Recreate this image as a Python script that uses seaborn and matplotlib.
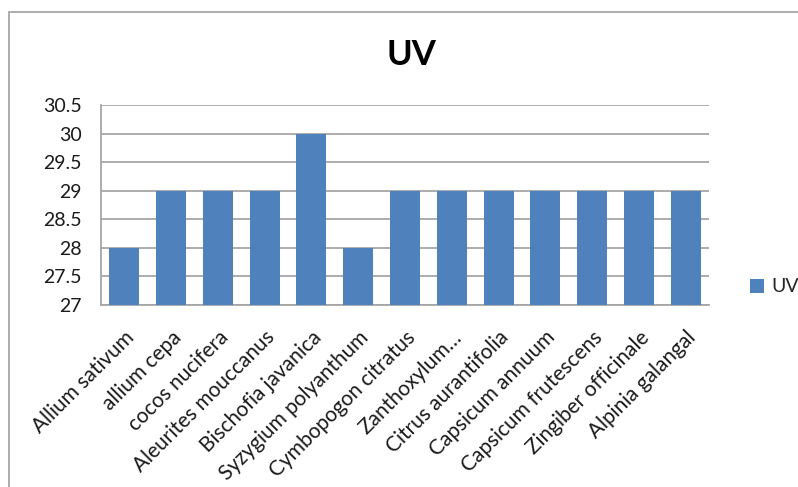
import matplotlib
matplotlib.use("Agg")
import matplotlib.pyplot as plt
import matplotlib.patches as mpatches
import seaborn as sns
import pandas as pd

# Plant species and their UV values
species = [
    "Allium sativum", "allium cepa", "cocos nucifera", "Aleurites mouccanus",
    "Bischofia javanica", "Syzygium polyanthum", "Cymbopogon citratus",
    "Zanthoxylum…", "Citrus aurantifolia", "Capsicum annuum",
    "Capsicum frutescens", "Zingiber officinale", "Alpinia galangal",
]
uv_values = [28, 29, 29, 29, 30, 28, 29, 29, 29, 29, 29, 29, 29]
y_ticks = [27, 27.5, 28, 28.5, 29, 29.5, 30, 30.5]
y_tick_labels = ["27", "27.5", "28", "28.5", "29", "29.5", "30", "30.5"]

sns.set_theme(style="white")
plt.rcParams["font.family"] = ["Lato", "DejaVu Sans"]

BAR = "#4F81BD"
GRID = "#A6A6A6"
W, H = 798, 487

df = pd.DataFrame({"species": species, "UV": uv_values})

fig = plt.figure(figsize=(W / 100, H / 100), dpi=100)
ax = fig.add_axes([101 / W, 1 - 305 / H, (709 - 101) / W, (305 - 105) / H])

sns.barplot(data=df, x="species", y="UV", color=BAR, width=0.64,
            saturation=1, ax=ax, zorder=3, linewidth=0)

ax.set_ylim(27, 30.5)
ax.set_yticks(y_ticks)
ax.set_yticklabels(y_tick_labels, fontsize=14, color="#1a1a1a")
ax.set_xlim(-0.5, len(species) - 0.5)
ax.set_xlabel("")
ax.set_ylabel("")
ax.yaxis.grid(True, color=GRID, linewidth=1.3, zorder=0)
ax.set_axisbelow(True)
ax.tick_params(axis="y", length=0, pad=14)
ax.tick_params(axis="x", length=0, pad=16)
for lbl in ax.get_xticklabels():
    lbl.set_rotation(45)
    lbl.set_ha("right")
    lbl.set_rotation_mode("anchor")
    lbl.set_fontsize(15)
    lbl.set_color("#1a1a1a")

for side in ("left", "bottom"):
    ax.spines[side].set_color(GRID)
    ax.spines[side].set_linewidth(1.3)
ax.spines["top"].set_visible(False)
ax.spines["right"].set_visible(False)

fig.text(411 / W, 1 - 55 / H, "UV", ha="center", va="center",
         fontsize=25, fontweight="bold", color="black")

leg_handle = mpatches.Patch(facecolor=BAR, edgecolor="none", label="UV")
fig.legend(handles=[leg_handle], labels=["UV"], loc="center left",
           bbox_to_anchor=(740 / W, 1 - 287 / H), frameon=False,
           fontsize=14, handlelength=0.75, handleheight=0.75,
           handletextpad=0.35, borderpad=0)

# Outer chart frame, running off the right and bottom edges
frame = mpatches.Rectangle((9 / W, -0.1), 1.2, 1 - 12 / H + 0.1,
                           transform=fig.transFigure, fill=False,
                           edgecolor="#A0A0A0", linewidth=1.2)
fig.patches.append(frame)

fig.savefig("out.png", dpi=100)
